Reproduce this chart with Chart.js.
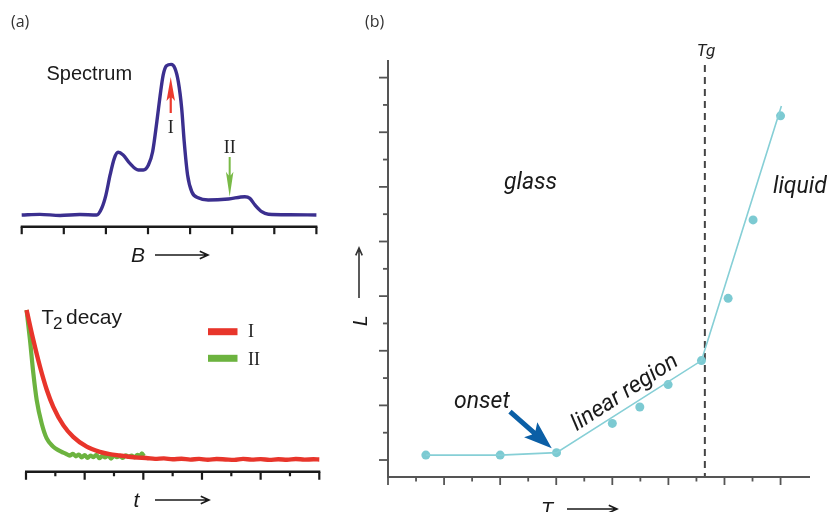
<!DOCTYPE html>
<html>
<head>
<meta charset="utf-8">
<script src="https://cdn.jsdelivr.net/npm/chart.js@4.4.1/dist/chart.umd.min.js"></script>
<style>
  html, body { margin: 0; padding: 0; background: #fff; }
  #wrap { position: relative; width: 827px; height: 512px; overflow: hidden; background: #fff; }
  #wrap canvas { position: absolute; left: 0; top: 0; }
</style>
</head>
<body>
<div id="wrap">
  <canvas id="chartSpectrum" width="827" height="512"></canvas>
  <canvas id="chartDecay" width="827" height="512"></canvas>
  <canvas id="chartGlass" width="827" height="512"></canvas>
</div>
<script>
/* ===== data ===== */
// (a) spectrum: field B (tick units) vs intensity (peak ~1)
const SPEC_B = [0, 0.43, 0.91, 1.38, 1.78, 1.90, 2.00, 2.10, 2.20, 2.29, 2.41, 2.57, 2.77, 2.89, 3.01, 3.11,
  3.21, 3.29, 3.36, 3.44, 3.55, 3.64, 3.72, 3.80, 3.86, 3.94, 4.04, 4.19, 4.43, 4.91, 5.30, 5.42, 5.54,
  5.70, 5.86, 6.37, 7.0];
const SPEC_I = [0, 0.004, -0.003, 0.003, 0, 0.045, 0.133, 0.267, 0.378, 0.418, 0.40, 0.344, 0.30, 0.30, 0.333, 0.422,
  0.622, 0.80, 0.933, 0.995, 1.004, 0.978, 0.889, 0.711, 0.489, 0.267, 0.155, 0.115, 0.10, 0.107, 0.122, 0.111, 0.067,
  0.022, 0.005, 0.002, 0];
const SPEC_TICKS = [0, 1, 2, 3, 4, 5, 6, 7];

// (a) T2 decay: time (tick units) vs signal
const DECAY_T_I = [0.02, 0.25, 0.48, 0.71, 0.93, 1.27, 1.61, 2.07, 2.52, 2.85, 3.2, 3.5, 3.8, 4.1, 4.4, 4.7, 5.0,
  5.3, 5.6, 5.9, 6.2, 6.5, 6.8, 7.1, 7.4, 7.7, 8.0, 8.3, 8.6, 8.9, 9.2, 9.5, 9.8, 10.0];
const DECAY_I = [1.0, 0.80, 0.62, 0.467, 0.355, 0.233, 0.155, 0.089, 0.055, 0.04, 0.03, 0.022, 0.016, 0.014, 0.008,
  0.011, 0.005, 0.009, 0.003, 0.008, 0.002, 0.007, 0.004, 0.001, 0.008, 0.003, 0.006, 0.001, 0.005, 0.002, 0.007,
  0.003, 0.005, 0.004];
const DECAY_T_II = [0.02, 0.136, 0.25, 0.365, 0.535, 0.706, 0.93, 1.1, 1.27, 1.4, 1.5, 1.6, 1.7, 1.8, 1.9, 2.0,
  2.1, 2.2, 2.3, 2.4, 2.5, 2.6, 2.7, 2.8, 2.9, 3.0, 3.1, 3.2, 3.3, 3.4, 3.5, 3.6, 3.7, 3.8, 3.9, 3.95, 4.02];
const DECAY_II = [1.0, 0.80, 0.578, 0.40, 0.244, 0.144, 0.089, 0.066, 0.049, 0.038, 0.03, 0.042, 0.025, 0.036,
  0.018, 0.033, 0.014, 0.03, 0.02, 0.035, 0.012, 0.028, 0.018, 0.032, 0.01, 0.03, 0.02, 0.027, 0.014, 0.032,
  0.022, 0.03, 0.018, 0.034, 0.028, 0.045, 0.026];
const DECAY_TICKS = [0, 1, 2, 3, 4, 5, 6, 7, 8, 9, 10];

// (b) L vs T
const GLASS_T = [1.35, 4.0, 6.01, 8.0, 8.98, 9.99, 11.18, 12.13, 13.02, 14.0];
const GLASS_L = [0.18, 0.18, 0.27, 1.34, 1.94, 2.76, 3.64, 5.92, 8.79, 12.6];
const FIT_T = [1.35, 4.0, 6.01, 11.18, 14.03];
const FIT_L = [0.18, 0.18, 0.27, 3.64, 12.96];
const GLASS_T_TICKS = [0, 1, 2, 3, 4, 5, 6, 7, 8, 9, 10, 11, 12, 13, 14];
const GLASS_L_TICKS = [0, 1, 2, 3, 4, 5, 6, 7, 8, 9, 10, 11, 12, 13, 14];
const TG = 11.3;

/* ===== helpers ===== */
const SANS = '"Liberation Sans", Arial, sans-serif';
const SERIF = '"Liberation Serif", "Times New Roman", serif';
const ITAL = 'Roboto, "Liberation Sans", sans-serif';

function pts(xs, ys) {
  return xs.map((x, i) => ({ x, y: ys[i] }));
}

function baseOptions(xr, yr, pad) {
  return {
    responsive: false,
    animation: false,
    events: [],
    layout: { padding: pad },
    plugins: { legend: { display: false }, tooltip: { enabled: false } },
    scales: {
      x: { type: 'linear', display: false, min: xr[0], max: xr[1] },
      y: { type: 'linear', display: false, min: yr[0], max: yr[1] }
    }
  };
}

function text(ctx, str, x, y, font, color, align, baseline) {
  ctx.save();
  ctx.font = font;
  ctx.fillStyle = color || '#222';
  ctx.textAlign = align || 'left';
  ctx.textBaseline = baseline || 'alphabetic';
  ctx.fillText(str, x, y);
  ctx.restore();
}

function line(ctx, x1, y1, x2, y2, color, width, dash) {
  ctx.save();
  ctx.strokeStyle = color;
  ctx.lineWidth = width;
  if (dash) ctx.setLineDash(dash);
  ctx.beginPath();
  ctx.moveTo(x1, y1);
  ctx.lineTo(x2, y2);
  ctx.stroke();
  ctx.restore();
}

// thin line with open head
function lineArrow(ctx, x1, y1, x2, y2, head, color, width) {
  const a = Math.atan2(y2 - y1, x2 - x1);
  ctx.save();
  ctx.strokeStyle = color;
  ctx.lineWidth = width;
  ctx.beginPath();
  ctx.moveTo(x1, y1);
  ctx.lineTo(x2, y2);
  ctx.moveTo(x2 - head * Math.cos(a - 0.42), y2 - head * Math.sin(a - 0.42));
  ctx.lineTo(x2, y2);
  ctx.lineTo(x2 - head * Math.cos(a + 0.42), y2 - head * Math.sin(a + 0.42));
  ctx.stroke();
  ctx.restore();
}

// filled arrow
function solidArrow(ctx, x1, y1, x2, y2, shaftW, headLen, headW, color) {
  const a = Math.atan2(y2 - y1, x2 - x1);
  const len = Math.hypot(x2 - x1, y2 - y1);
  const b = len - headLen;
  ctx.save();
  ctx.translate(x1, y1);
  ctx.rotate(a);
  ctx.fillStyle = color;
  ctx.beginPath();
  ctx.moveTo(0, -shaftW / 2);
  ctx.lineTo(b + headLen * 0.15, -shaftW / 2);
  ctx.lineTo(b, -headW / 2);
  ctx.lineTo(len, 0);
  ctx.lineTo(b, headW / 2);
  ctx.lineTo(b + headLen * 0.15, shaftW / 2);
  ctx.lineTo(0, shaftW / 2);
  ctx.closePath();
  ctx.fill();
  ctx.restore();
}

/* ===== (a) spectrum ===== */
const spectrumDecor = {
  id: 'spectrumDecor',
  afterDatasetsDraw(chart) {
    const { ctx, scales: { x, y } } = chart;
    const axisY = y.getPixelForValue(-0.078);
    line(ctx, x.getPixelForValue(0) - 1, axisY, x.getPixelForValue(7) + 1, axisY, '#1a1a1a', 2.6);
    SPEC_TICKS.forEach(v => {
      const px = x.getPixelForValue(v);
      line(ctx, px, axisY, px, axisY + 7.5, '#1a1a1a', 2.2);
    });

    // marker arrows I and II
    const xI = x.getPixelForValue(3.54);
    solidArrow(ctx, xI, y.getPixelForValue(0.68), xI, y.getPixelForValue(0.92), 2.2, 24, 8.5, '#ec3a2e');
    text(ctx, 'I', xI, 133, '18px ' + SERIF, '#222', 'center');

    const xII = x.getPixelForValue(4.94);
    solidArrow(ctx, xII, y.getPixelForValue(0.387), xII, y.getPixelForValue(0.122), 2, 25, 7.5, '#79ba47');
    text(ctx, 'II', xII, 153, '18px ' + SERIF, '#222', 'center');

    text(ctx, '(a)', 11, 27, '16px "Open Sans", ' + SANS, '#333');
    text(ctx, 'Spectrum', 46.5, 80, '20px ' + SANS, '#1a1a1a');
    text(ctx, 'B', 131, 261.5, 'italic 21px ' + SANS, '#1a1a1a');
    lineArrow(ctx, 155, 255, 208, 255, 9, '#1a1a1a', 1.6);
  }
};

new Chart(document.getElementById('chartSpectrum'), {
  type: 'line',
  data: {
    datasets: [{
      data: pts(SPEC_B, SPEC_I),
      borderColor: '#3b2f8f',
      borderWidth: 3.4,
      pointRadius: 0,
      cubicInterpolationMode: 'monotone',
      clip: false
    }]
  },
  options: baseOptions([0, 7], [-0.1, 1.1], { left: 21.7, right: 510.6, top: 50, bottom: 282 }),
  plugins: [spectrumDecor]
});

/* ===== (a) T2 decay ===== */
const decayDecor = {
  id: 'decayDecor',
  afterDatasetsDraw(chart) {
    const { ctx, scales: { x, y } } = chart;
    const axisY = y.getPixelForValue(-0.078);
    line(ctx, x.getPixelForValue(0) - 1, axisY, x.getPixelForValue(10) + 1, axisY, '#1a1a1a', 2.6);
    DECAY_TICKS.forEach(v => {
      const px = x.getPixelForValue(v);
      line(ctx, px, axisY, px, axisY + (v % 2 === 0 ? 8 : 4.5), '#1a1a1a', 2.2);
    });

    text(ctx, 'T', 41.5, 323.5, '20px ' + SANS, '#1a1a1a');
    text(ctx, '2', 53, 328.5, '17px ' + SANS, '#1a1a1a');
    text(ctx, 'decay', 66, 323.5, '21px ' + SANS, '#1a1a1a');

    // legend
    line(ctx, 208, 331.7, 237.5, 331.7, '#e8352b', 7);
    line(ctx, 208, 358.3, 237.5, 358.3, '#6cb33f', 7);
    text(ctx, 'I', 248, 337, '18px ' + SERIF, '#222');
    text(ctx, 'II', 248, 365, '18px ' + SERIF, '#222');

    text(ctx, 't', 133.5, 507, 'italic 21px ' + SANS, '#1a1a1a');
    lineArrow(ctx, 155, 500, 209, 500, 9, '#1a1a1a', 1.6);
  }
};

new Chart(document.getElementById('chartDecay'), {
  type: 'line',
  data: {
    datasets: [{
      data: pts(DECAY_T_I, DECAY_I),
      borderColor: '#e8352b',
      borderWidth: 4.4,
      pointRadius: 0,
      cubicInterpolationMode: 'monotone',
      clip: false
    }, {
      data: pts(DECAY_T_II, DECAY_II),
      borderColor: '#6cb33f',
      borderWidth: 4.2,
      pointRadius: 0,
      cubicInterpolationMode: 'monotone',
      clip: false
    }]
  },
  options: baseOptions([0, 10], [-0.133, 1.067], { left: 26, right: 507.7, top: 300, bottom: 32 }),
  plugins: [decayDecor]
});

/* ===== (b) L vs T ===== */
const glassDecor = {
  id: 'glassDecor',
  beforeDatasetsDraw(chart) {
    const { ctx, scales: { x, y } } = chart;
    const px = x.getPixelForValue(TG);
    line(ctx, px, y.getPixelForValue(14.46), px, y.getPixelForValue(-0.622), '#444', 2, [7, 5]);
  },
  afterDatasetsDraw(chart) {
    const { ctx, chartArea: ca, scales: { x, y } } = chart;
    const ax = '#555';
    line(ctx, ca.left, ca.top, ca.left, ca.bottom + 1, ax, 2);
    line(ctx, ca.left - 1, ca.bottom, ca.right, ca.bottom, ax, 2);
    GLASS_L_TICKS.forEach(v => {
      const py = y.getPixelForValue(v);
      line(ctx, ca.left, py, ca.left - (v % 2 === 0 ? 9 : 5), py, ax, 1.8);
    });
    GLASS_T_TICKS.forEach(v => {
      const px = x.getPixelForValue(v);
      line(ctx, px, ca.bottom, px, ca.bottom + (v % 2 === 0 ? 8 : 4.5), ax, 1.8);
    });

    solidArrow(ctx, x.getPixelForValue(4.35), y.getPixelForValue(1.77),
      x.getPixelForValue(5.84), y.getPixelForValue(0.43), 5, 28, 20, '#0b5fa6');

    text(ctx, '(b)', 365, 27, '16px "Open Sans", ' + SANS, '#333');
    text(ctx, 'Tg', 706, 56, 'italic 17px ' + ITAL, '#222', 'center');
    text(ctx, 'glass', 504, 189, 'italic 23px ' + ITAL, '#1a1a1a');
    text(ctx, 'liquid', 773, 193, 'italic 23px ' + ITAL, '#1a1a1a');
    text(ctx, 'onset', 454, 408, 'italic 23px ' + ITAL, '#1a1a1a');

    ctx.save();
    ctx.translate(625, 393);
    ctx.rotate(-33 * Math.PI / 180);
    text(ctx, 'linear region', 0, 0, 'italic 23px ' + ITAL, '#1a1a1a', 'center', 'middle');
    ctx.restore();

    ctx.save();
    ctx.translate(367, 326);
    ctx.rotate(-Math.PI / 2);
    text(ctx, 'L', 0, 0, 'italic 20px ' + ITAL, '#1a1a1a');
    ctx.restore();
    lineArrow(ctx, 359, 298, 359, 248, 8, '#333', 1.6);

    text(ctx, 'T', 541, 516.5, 'italic 21px ' + ITAL, '#1a1a1a');
    lineArrow(ctx, 567, 509, 617, 509, 9, '#1a1a1a', 1.6);
  }
};

new Chart(document.getElementById('chartGlass'), {
  type: 'line',
  data: {
    datasets: [{
      data: pts(FIT_T, FIT_L),
      borderColor: '#86cfd6',
      borderWidth: 1.6,
      pointRadius: 0,
      tension: 0,
      clip: false
    }, {
      data: pts(GLASS_T, GLASS_L),
      showLine: false,
      pointRadius: 4.5,
      pointBackgroundColor: '#7ccad2',
      pointBorderWidth: 0,
      clip: false
    }]
  },
  options: baseOptions([0, 15.05], [-0.622, 14.645], { left: 388, right: 17, top: 60, bottom: 35 }),
  plugins: [glassDecor]
});
</script>
</body>
</html>
